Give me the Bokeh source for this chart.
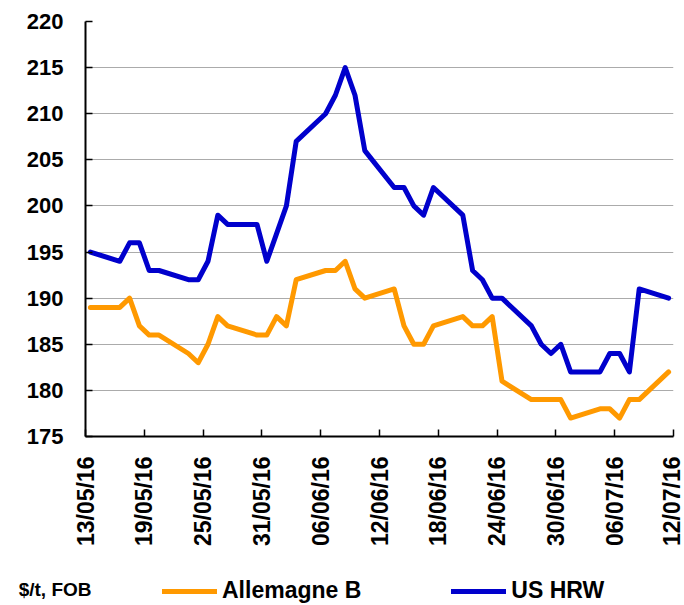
import pandas as pd
from bokeh.plotting import figure
from bokeh.layouts import column
from bokeh.models import Range1d, FixedTicker, DatetimeTickFormatter, Legend, LegendItem
from bokeh.embed import file_html
from bokeh.resources import INLINE

# ---- data ----
dates = ["13/05/16", "16/05/16", "17/05/16", "18/05/16", "19/05/16", "20/05/16",
         "23/05/16", "24/05/16", "25/05/16", "26/05/16", "27/05/16",
         "30/05/16", "31/05/16", "01/06/16", "02/06/16", "03/06/16",
         "06/06/16", "07/06/16", "08/06/16", "09/06/16", "10/06/16",
         "13/06/16", "14/06/16", "15/06/16", "16/06/16", "17/06/16",
         "20/06/16", "21/06/16", "22/06/16", "23/06/16", "24/06/16",
         "27/06/16", "28/06/16", "29/06/16", "30/06/16", "01/07/16",
         "04/07/16", "05/07/16", "06/07/16", "07/07/16", "08/07/16",
         "11/07/16"]
allemagne_b = [189, 189, 190, 187, 186, 186,
               184, 183, 185, 188, 187,
               186, 186, 188, 187, 192,
               193, 193, 194, 191, 190,
               191, 187, 185, 185, 187,
               188, 187, 187, 188, 181,
               179, 179, 179, 179, 177,
               178, 178, 177, 179, 179,
               182]
us_hrw = [195, 194, 196, 196, 193, 193,
          192, 192, 194, 199, 198,
          198, 194, 197, 200, 207,
          210, 212, 215, 212, 206,
          202, 202, 200, 199, 202,
          199, 193, 192, 190, 190,
          187, 185, 184, 185, 182,
          182, 184, 184, 182, 191,
          190]
tick_labels = ["13/05/16", "19/05/16", "25/05/16", "31/05/16", "06/06/16", "12/06/16",
               "18/06/16", "24/06/16", "30/06/16", "06/07/16", "12/07/16"]
y_ticks = [175, 180, 185, 190, 195, 200, 205, 210, 215, 220]
series_names = ["Allemagne B", "US HRW"]
unit_label = "$/t, FOB"

# ---- conversions ----
epoch = pd.Timestamp("1970-01-01")
xd = pd.to_datetime(dates, format="%d/%m/%y") + pd.Timedelta(hours=12)
x_ms = [(d - epoch) // pd.Timedelta(milliseconds=1) for d in xd]
tk = pd.to_datetime(tick_labels, format="%d/%m/%y")
tick_ms = [(d - epoch) // pd.Timedelta(milliseconds=1) for d in tk]

FONT = "Liberation Sans"
ORANGE = "#FF9900"
BLUE = "#0000CC"

p = figure(width=684, height=560, output_backend="svg", toolbar_location=None,
           x_axis_type="datetime",
           x_range=Range1d(tick_ms[0], tick_ms[-1]),
           y_range=Range1d(y_ticks[0], y_ticks[-1]),
           min_border_left=85, min_border_right=11, min_border_top=21, min_border_bottom=124)
p.outline_line_color = None
p.background_fill_color = "white"

p.line(x_ms, allemagne_b, line_color=ORANGE, line_width=5, line_join="round", line_cap="round")
p.line(x_ms, us_hrw, line_color=BLUE, line_width=5, line_join="round", line_cap="round")

# axes
p.xaxis.ticker = FixedTicker(ticks=tick_ms)
p.xaxis.formatter = DatetimeTickFormatter(days="%d/%m/%y", months="%d/%m/%y", hours="%d/%m/%y")
p.xaxis.major_label_orientation = 3.14159265 / 2
p.yaxis.ticker = FixedTicker(ticks=y_ticks)
for ax in (p.xaxis, p.yaxis):
    ax.axis_line_color = "black"
    ax.axis_line_width = 2
    ax.major_tick_line_color = "black"
    ax.major_tick_line_width = 1.5
    ax.major_tick_in = 7
    ax.major_tick_out = 0
    ax.minor_tick_line_color = None
    ax.major_label_text_font = FONT
    ax.major_label_text_font_style = "bold"
    ax.major_label_text_color = "black"
p.xaxis.major_label_text_font_size = "23px"
p.yaxis.major_label_text_font_size = "22px"
p.xaxis.major_label_standoff = 20
p.yaxis.major_label_standoff = 22

p.xgrid.grid_line_color = None
p.ygrid.grid_line_color = "#ababab"
p.ygrid.grid_line_width = 1.2

# ---- legend row (separate strip below the chart; its frame aligns with the chart's) ----
lg = figure(width=684, height=45, output_backend="svg", toolbar_location=None,
            x_range=Range1d(tick_ms[0], tick_ms[-1]), y_range=Range1d(0, 1),
            x_axis_location=None, y_axis_location="left",
            min_border_left=85, min_border_right=11, min_border_top=13, min_border_bottom=0)
lg.outline_line_color = None
lg.xgrid.grid_line_color = None
lg.ygrid.grid_line_color = None
# unit text shown as the strip's (otherwise invisible) y-axis label
lg.yaxis.ticker = FixedTicker(ticks=[])
lg.yaxis.axis_line_color = None
lg.yaxis.major_tick_line_color = None
lg.yaxis.minor_tick_line_color = None
lg.yaxis.major_label_text_alpha = 0
lg.yaxis.axis_label = unit_label
lg.yaxis.axis_label_orientation = "horizontal"
lg.yaxis.axis_label_standoff = -6
lg.yaxis.axis_label_text_font = FONT
lg.yaxis.axis_label_text_font_style = "bold"
lg.yaxis.axis_label_text_font_size = "19px"
lg.yaxis.axis_label_text_color = "black"

# same series, outside this strip's y-range: only their legend swatches show
s1 = lg.line(x_ms, allemagne_b, line_color=ORANGE, line_width=5, line_cap="round")
s2 = lg.line(x_ms, us_hrw, line_color=BLUE, line_width=5, line_cap="round")

legend = Legend(items=[LegendItem(label=series_names[0], renderers=[s1]),
                       LegendItem(label=series_names[1], renderers=[s2])],
                orientation="horizontal", location=(77, 1),
                padding=0, margin=0, spacing=90,
                glyph_width=55, glyph_height=26, label_height=26, label_standoff=5,
                label_text_font=FONT, label_text_font_style="bold",
                label_text_font_size="23px", label_text_color="black",
                border_line_color=None, background_fill_alpha=0)
lg.add_layout(legend, "center")

layout = column(p, lg, spacing=0)
open("out.html", "w").write(file_html(layout, INLINE))
